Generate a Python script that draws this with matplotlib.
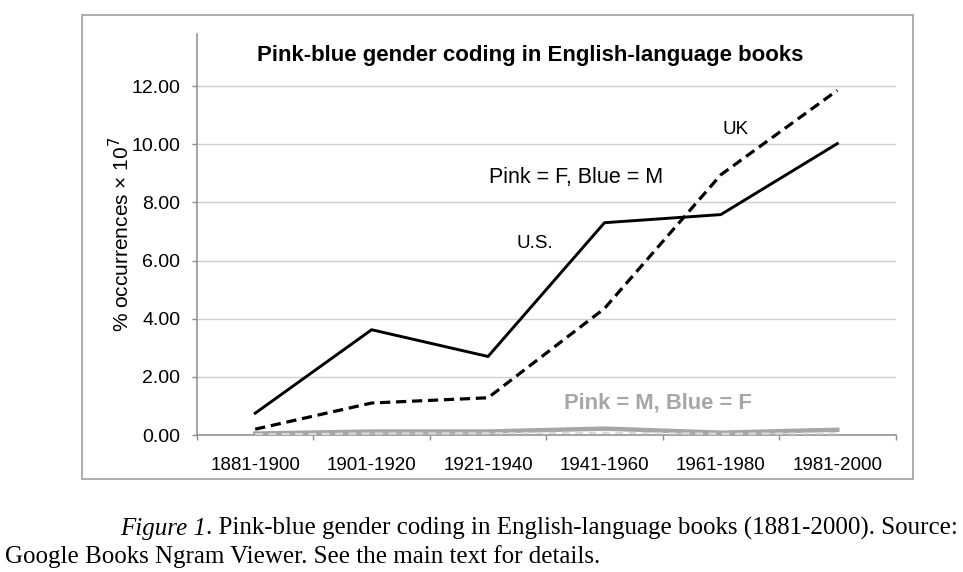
import matplotlib.pyplot as plt
from matplotlib.patches import Rectangle

plt.rcParams['font.family'] = ['Liberation Sans', 'DejaVu Sans']

periods = ['1881-1900', '1901-1920', '1921-1940', '1941-1960', '1961-1980', '1981-2000']
us_fm = [0.75, 3.62, 2.70, 7.30, 7.58, 10.02]     # Pink = F, Blue = M (U.S.)
uk_fm = [0.20, 1.10, 1.28, 4.35, 8.95, 11.85]     # Pink = F, Blue = M (UK)
us_mf = [0.05, 0.12, 0.12, 0.22, 0.08, 0.18]      # Pink = M, Blue = F (U.S.)
uk_mf = [0.02, 0.05, 0.06, 0.08, 0.04, 0.06]      # Pink = M, Blue = F (UK)
yticks = [0, 2, 4, 6, 8, 10, 12]

W, H = 963, 572
fig = plt.figure(figsize=(W / 100, H / 100), dpi=100)

# outer chart frame (Excel style)
fig.patches.append(Rectangle((82 / W, 1 - 479 / H), (913 - 82) / W, (479 - 15) / H,
                             transform=fig.transFigure, fill=False,
                             edgecolor='#a6a6a6', lw=1.3))

ax = fig.add_axes([197 / W, 1 - 435 / H, (895.5 - 197) / W, (435 - 34) / H])
x = list(range(len(periods)))

ax.plot(x, us_fm, color='black', lw=2.1, zorder=3)
ax.plot(x, uk_fm, color='black', lw=2.3, linestyle=(0, (3.2, 1.8)), zorder=3)
ax.plot(x, us_mf, color='#a6a6a6', lw=3.2, zorder=3)
ax.plot(x, uk_mf, color='#dadada', lw=1.6, linestyle=(0, (3.5, 2.5)), zorder=4)

ax.set_xlim(-0.5, len(periods) - 0.5)
ax.set_ylim(0, 401 / 29.08)
ax.set_yticks(yticks)
ax.set_yticklabels([f'{v:.2f}' for v in yticks], fontsize=14)
ax.set_xticks([i - 0.5 for i in range(len(periods) + 1)])
ax.set_xticklabels([])
ax.set_xticks(x, minor=True)
ax.set_xticklabels(periods, minor=True, fontsize=13.5)
ax.tick_params(axis='x', which='major', length=3.5, color='#8c8c8c', width=1)
ax.tick_params(axis='x', which='minor', length=0, pad=16)
ax.tick_params(axis='y', length=3.5, color='#8c8c8c', width=1, pad=8.5)
ax.yaxis.grid(True, color='#cfcfcf', lw=1)
ax.set_axisbelow(True)
for s in ['top', 'right']:
    ax.spines[s].set_visible(False)
for s in ['left', 'bottom']:
    ax.spines[s].set_color('#8c8c8c')
    ax.spines[s].set_linewidth(1.1)

ax.set_ylabel('% occurrences × 10$^7$', fontsize=15, labelpad=-1)

ax.text(2.36, 13.05, 'Pink-blue gender coding in English-language books',
        ha='center', va='center', fontsize=16, fontweight='bold')
ax.text(2.76, 8.87, 'Pink = F, Blue = M', ha='center', va='center', fontsize=15.5)
ax.text(2.40, 6.6, 'U.S.', ha='center', va='center', fontsize=13.5)
ax.text(4.13, 10.49, 'UK', ha='center', va='center', fontsize=13.5)
ax.text(3.46, 1.10, 'Pink = M, Blue = F', ha='center', va='center', fontsize=15.8,
        fontweight='bold', color='#a6a6a6')

# caption
t1 = fig.text(120 / W, 1 - 535 / H, 'Figure 1', family='Liberation Serif',
              style='italic', fontsize=18, va='baseline')
ax.annotate('. Pink-blue gender coding in English-language books (1881-2000). Source:',
            xy=(1, 0), xycoords=t1, va='bottom', family='Liberation Serif', fontsize=18,
            annotation_clip=False)
fig.text(5 / W, 1 - 563 / H, 'Google Books Ngram Viewer. See the main text for details.',
         family='Liberation Serif', fontsize=18, va='baseline')

fig.savefig('out.png', dpi=100)
